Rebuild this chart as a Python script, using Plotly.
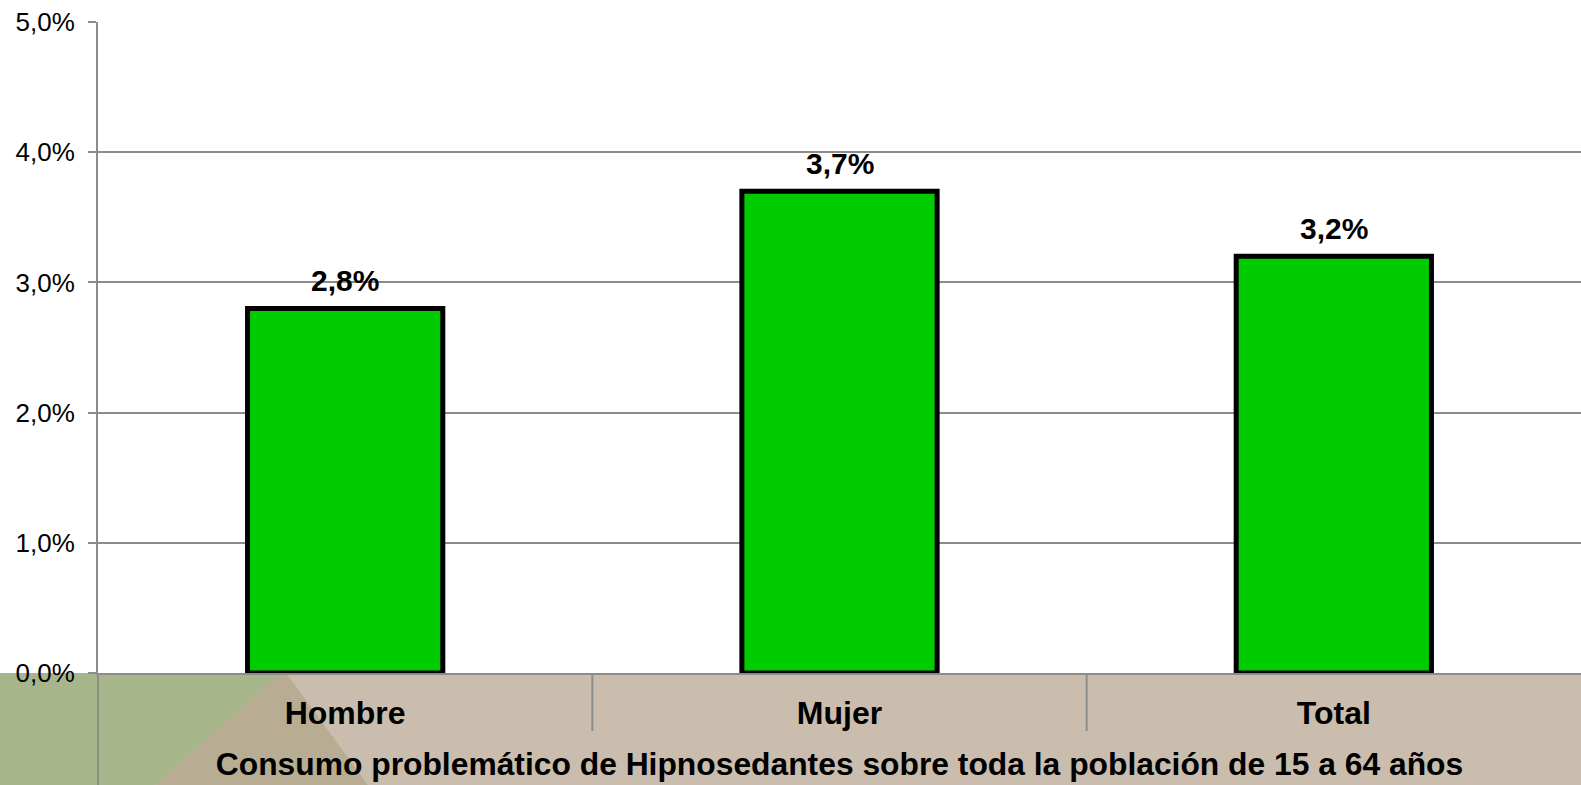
import plotly.graph_objects as go

categorias = ["Hombre", "Mujer", "Total"]
consumo = [0.028, 0.037, 0.032]
titulo_x = "Consumo problemático de Hipnosedantes sobre toda la población de 15 a 64 años"

W, H = 1581, 785
L, T, B = 98, 22, 112
plot_w = W - L
plot_h = H - T - B

def px(x):
    return (x - L) / plot_w

def py(y):
    return (H - B - y) / plot_h

GRIS = "#8C8C8C"
FUENTE = "Arial, Liberation Sans, sans-serif"

trace = go.Bar(
    x=categorias,
    y=consumo,
    width=0.395,
    marker=dict(color="#00CC00", line=dict(color="black", width=5)),
    cliponaxis=False,
)

# etiquetas de valor encima de cada barra
etiquetas = [
    dict(x=c, y=v, xref="x", yref="y", text="<b>%s%%</b>" % ("%.1f" % (v * 100)).replace(".", ","),
         showarrow=False, yanchor="middle", yshift=28,
         font=dict(size=30, color="black", family=FUENTE))
    for c, v in zip(categorias, consumo)
]

def poly(pts):
    return "M " + " L ".join("%f,%f" % (px(a), py(b)) for a, b in pts) + " Z"

shapes = [
    dict(type="rect", xref="paper", yref="paper", x0=px(0), x1=px(W), y0=py(H), y1=0,
         fillcolor="#CABDAD", line=dict(width=0), layer="below"),
    dict(type="path", xref="paper", yref="paper",
         path=poly([(280, 673), (286, 673), (368, H), (155, H)]),
         fillcolor="#B8AD93", line=dict(width=0), layer="below"),
    dict(type="path", xref="paper", yref="paper",
         path=poly([(0, 673), (281, 673), (155, H), (0, H)]),
         fillcolor="#A6B68A", line=dict(width=0), layer="below"),
    # eje y prolongado hacia abajo
    dict(type="line", xref="paper", yref="paper", x0=0, x1=0, y0=0, y1=py(H),
         line=dict(color=GRIS, width=2)),
]
for i in range(1, len(categorias)):
    shapes.append(dict(type="line", xref="x", yref="paper", x0=i - 0.5, x1=i - 0.5,
                       y0=0, y1=py(731), line=dict(color=GRIS, width=2)))

layout = go.Layout(
    width=W, height=H,
    margin=dict(l=L, r=0, t=T, b=B, pad=0, autoexpand=False),
    paper_bgcolor="white",
    plot_bgcolor="white",
    separators=",.",
    showlegend=False,
    font=dict(family=FUENTE, color="black"),
    xaxis=dict(
        type="category",
        automargin=False,
        showgrid=False,
        showline=True, linecolor=GRIS, linewidth=2,
        ticks="",
        tickfont=dict(size=32, family=FUENTE, color="black", weight="bold"),
        ticklabelstandoff=11,
        title=dict(text="<b>" + titulo_x + "</b>", font=dict(size=31.8, color="black"), standoff=22),
    ),
    yaxis=dict(
        automargin=False,
        range=[0, 0.05],
        dtick=0.01,
        tickformat=".1%",
        showgrid=True, gridcolor=GRIS, gridwidth=2,
        showline=True, linecolor=GRIS, linewidth=2,
        zeroline=False,
        ticks="outside", ticklen=8, tickcolor=GRIS, tickwidth=2,
        tickfont=dict(size=26, family=FUENTE, color="black"),
        ticklabelstandoff=8,
    ),
    shapes=shapes,
    annotations=etiquetas,
)

fig = go.Figure(data=[trace], layout=layout)
fig.write_html("out.html", config={"displayModeBar": False},
               post_script="document.body.style.margin='0';")
